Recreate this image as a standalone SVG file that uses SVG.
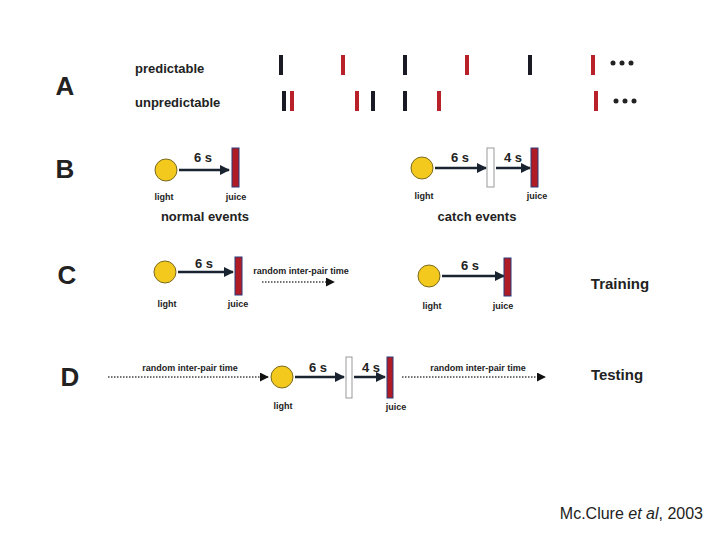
<svg xmlns="http://www.w3.org/2000/svg" width="720" height="540" viewBox="0 0 720 540">
<defs>
<marker id="ah" viewBox="0 0 10 10" refX="9" refY="5" markerWidth="4" markerHeight="4" orient="auto"><path d="M0,0L10,5L0,10z" fill="#1a2430"/></marker>
<marker id="ah2" viewBox="0 0 10 10" refX="9" refY="5" markerWidth="6" markerHeight="6" orient="auto"><path d="M0,0L10,5L0,10z" fill="#111"/></marker>
</defs>
<style>
text{font-family:"Liberation Sans",Arial,sans-serif;fill:#222}
.big{font-size:26px;font-weight:bold}
.lab{font-size:13px;font-weight:bold}
.sm{font-size:9px;font-weight:bold;text-anchor:middle}
.ev{font-size:13px;font-weight:bold;text-anchor:middle}
.sec{font-size:15px;font-weight:bold;text-anchor:middle}
.k{fill:#1a1a24}.r{fill:#b8202a}
.light{fill:#f2c91c;stroke:#7a6a20;stroke-width:1}
.juice{fill:#b01c26;stroke:#2a3a78;stroke-width:1}
.catch{fill:#fff;stroke:#999;stroke-width:1}
.arr{stroke:#1a2430;stroke-width:2.5;fill:none;marker-end:url(#ah)}
.dot{stroke:#444;stroke-width:1.5;stroke-dasharray:1.5 1.5;fill:none;marker-end:url(#ah2)}
</style>
<rect width="720" height="540" fill="#fff"/>
<text class="big" x="65" y="95" text-anchor="middle">A</text>
<text class="big" x="65" y="178" text-anchor="middle">B</text>
<text class="big" x="67" y="284" text-anchor="middle">C</text>
<text class="big" x="70" y="386" text-anchor="middle">D</text>
<text class="lab" x="135" y="73">predictable</text>
<text class="lab" x="135" y="107">unpredictable</text>
<g id="trainA">
<rect class="k" x="279" y="55" width="4" height="20"/><rect class="r" x="341" y="55" width="4" height="20"/>
<rect class="k" x="403" y="55" width="4" height="20"/><rect class="r" x="465" y="55" width="4" height="20"/>
<rect class="k" x="528" y="55" width="4" height="20"/><rect class="r" x="591" y="55" width="4" height="20"/>
<circle cx="613" cy="63" r="2.5" fill="#222"/><circle cx="622" cy="63" r="2.5" fill="#222"/><circle cx="631" cy="63" r="2.5" fill="#222"/>
<rect class="k" x="282" y="91" width="4" height="20"/><rect class="r" x="290" y="91" width="4" height="20"/>
<rect class="r" x="355" y="91" width="4" height="20"/><rect class="k" x="371" y="91" width="4" height="20"/>
<rect class="k" x="403" y="91" width="4" height="20"/><rect class="r" x="437" y="91" width="4" height="20"/>
<rect class="r" x="594" y="91" width="4" height="20"/>
<circle cx="616" cy="101" r="2.5" fill="#222"/><circle cx="625" cy="101" r="2.5" fill="#222"/><circle cx="634" cy="101" r="2.5" fill="#222"/>
</g>
<g id="connectors">
<path class="arr" d="M179,170H229"/>
<path class="arr" d="M435,168H486"/><path class="arr" d="M496,168H530"/>
<path class="arr" d="M178,272H233"/><path class="dot" d="M262,282H334"/><path class="arr" d="M442,276H504"/>
<path class="dot" d="M108,377H268"/><path class="arr" d="M295,377H344"/><path class="arr" d="M354,377H385"/><path class="dot" d="M402,377H545"/>
</g>
<g id="B-normal">
<circle class="light" cx="166" cy="170" r="11"/><rect class="juice" x="232" y="148" width="7" height="39"/>
<text class="ev" x="203" y="162">6 s</text>
<text class="sm" x="164" y="200">light</text><text class="sm" x="236" y="200">juice</text>
<text class="ev" x="205" y="221">normal events</text>
</g>
<g id="B-catch">
<circle class="light" cx="422" cy="168" r="11"/><rect class="catch" x="487" y="148" width="7" height="39"/><rect class="juice" x="531" y="148" width="7" height="39"/>
<text class="ev" x="460" y="162">6 s</text><text class="ev" x="513" y="162">4 s</text>
<text class="sm" x="424" y="199">light</text><text class="sm" x="537" y="199">juice</text>
<text class="ev" x="477" y="221">catch events</text>
</g>
<g id="C">
<circle class="light" cx="165" cy="272" r="11"/><rect class="juice" x="235" y="257" width="7" height="38"/>
<text class="ev" x="204" y="268">6 s</text>
<text class="sm" x="167" y="307">light</text><text class="sm" x="238" y="307">juice</text>
<text class="sm" x="301" y="274">random inter-pair time</text>
<circle class="light" cx="429" cy="276" r="11"/><rect class="juice" x="504" y="258" width="7" height="38"/>
<text class="ev" x="470" y="270">6 s</text>
<text class="sm" x="432" y="309">light</text><text class="sm" x="503" y="309">juice</text>
<text class="sec" x="620" y="289">Training</text>
</g>
<g id="D">
<text class="sm" x="190" y="371">random inter-pair time</text>
<circle class="light" cx="282" cy="377" r="11"/><rect class="catch" x="346" y="357" width="6" height="41"/><rect class="juice" x="387" y="357" width="6" height="41"/>
<text class="ev" x="318" y="372">6 s</text><text class="ev" x="371" y="372">4 s</text>
<text class="sm" x="283" y="409">light</text><text class="sm" x="396" y="410">juice</text>
<text class="sm" x="478" y="371">random inter-pair time</text>
<text class="sec" x="617" y="380">Testing</text>
</g>
<text x="703" y="519" font-size="16" text-anchor="end">Mc.Clure <tspan font-style="italic">et al</tspan>, 2003</text>
</svg>
